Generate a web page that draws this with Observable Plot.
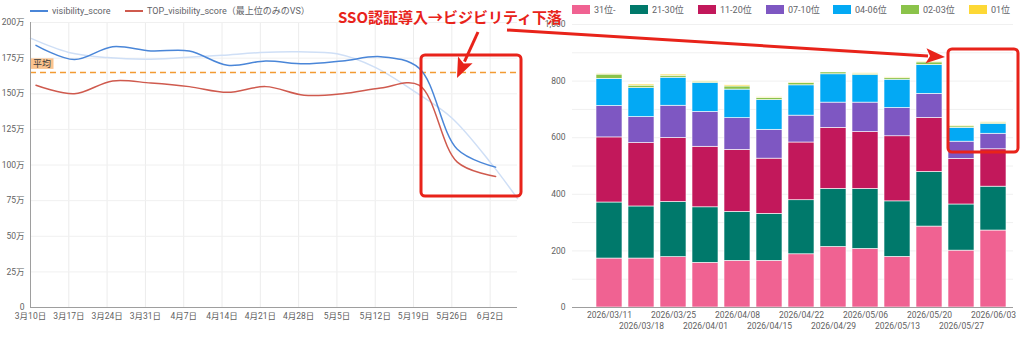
<!DOCTYPE html>
<html>
<head>
<meta charset="utf-8">
<script src="https://cdn.jsdelivr.net/npm/d3@7"></script>
<script src="https://cdn.jsdelivr.net/npm/@observablehq/plot@0.6"></script>
<style>
  html, body { margin: 0; padding: 0; background: #fff; }
  #wrap { position: relative; width: 1024px; height: 337px; overflow: hidden;
          font-family: Roboto, "Noto Sans CJK JP", sans-serif; }
  #left, #right, #anno { position: absolute; top: 0; }
  #left { left: 0; }
  #right { left: 530px; }
  #anno { left: 0; pointer-events: none; }
  .lg { position: absolute; font-size: 9px; color: #5f6368; white-space: nowrap; line-height: 12px; }
</style>
</head>
<body>
<div id="wrap">
  <div id="left"></div>
  <div id="right"></div>
  <svg id="anno" width="1024" height="337"></svg>
</div>
<script>
// ---------- Left chart data (values in 万) ----------
const weeks = ["2026-03-11","2026-03-18","2026-03-25","2026-04-01","2026-04-08","2026-04-15","2026-04-22",
               "2026-04-29","2026-05-06","2026-05-13","2026-05-20","2026-05-27","2026-06-03"];
const visibilityScore = [184, 174, 183, 180, 180, 170, 173, 171, 173, 176, 168, 111, 98.5];
const topVisibilityScore = [156, 150, 159, 157.5, 155, 151, 155, 149, 150, 154, 156, 102, 92];
const trendDates = ["2026-03-10","2026-03-17","2026-03-24","2026-03-31","2026-04-07","2026-04-14","2026-04-21",
                    "2026-04-28","2026-05-05","2026-05-12","2026-05-19","2026-05-26","2026-06-02","2026-06-07"];
const trendValues = [189, 179, 175.4, 174.2, 175.4, 177, 178.9, 179.4, 178, 168.5, 152, 133, 102, 76.5];
const averageValue = 165;
const lineTickDates = ["2026-03-10","2026-03-17","2026-03-24","2026-03-31","2026-04-07","2026-04-14","2026-04-21",
                       "2026-04-28","2026-05-05","2026-05-12","2026-05-19","2026-05-26","2026-06-02"];
const lineYTicks = [0, 25, 50, 75, 100, 125, 150, 175, 200];

// ---------- Right chart data ----------
const barLabels = ["2026/03/11","2026/03/18","2026/03/25","2026/04/01","2026/04/08","2026/04/15","2026/04/22",
                   "2026/04/29","2026/05/06","2026/05/13","2026/05/20","2026/05/27","2026/06/03"];
const ranks = ["31位-","21-30位","11-20位","07-10位","04-06位","02-03位","01位"];
const rankColors = ["#f06292","#00796b","#c2185b","#7e57c2","#03a9f4","#8bc34a","#fdd835"];
const rank31 = [173, 173, 178, 158, 165, 165, 188, 214, 207, 179, 286, 201, 272];
const rank21 = [198, 184, 195, 196, 173, 166, 191, 205, 212, 196, 193, 163, 155];
const rank11 = [230, 224, 226, 214, 219, 195, 204, 216, 201, 230, 191, 161, 132];
const rank07 = [111, 92, 114, 123, 112, 102, 95, 89, 104, 100, 85, 61, 55];
const rank04 = [96, 102, 99, 102, 101, 105, 107, 100, 97, 100, 102, 49, 34];
const rank02 = [15, 9, 7, 5, 11, 8, 8, 7, 5, 6, 9, 5, 5];
const rank01 = [3, 4, 4, 2, 4, 2, 2, 2, 2, 2, 3, 3, 2];
const barYTicks = [0, 200, 400, 600, 800, 1000];
const barGrid = [100, 200, 300, 400, 500, 600, 700, 800, 900, 1000];

const FONT = 'Roboto, "Noto Sans CJK JP", sans-serif';
const GRAY = "#616161";
const RED = "#e8231a";
const AXFS = 8.5;

// ---------- Left line chart ----------
const D = s => new Date(s + "T00:00:00Z");
const visRows = weeks.map((w, i) => ({date: D(w), value: visibilityScore[i]}));
const topRows = weeks.map((w, i) => ({date: D(w), value: topVisibilityScore[i]}));
const trendRows = trendDates.map((w, i) => ({date: D(w), value: trendValues[i]}));
const tickD = lineTickDates.map(D);
const x0 = D("2026-03-10"), x1 = D("2026-06-07");

const left = Plot.plot({
  width: 530, height: 337,
  marginLeft: 30, marginRight: 13, marginTop: 22, marginBottom: 30,
  style: {fontFamily: FONT, fontSize: "8.5px", background: "transparent"},
  x: {type: "utc", domain: [x0, x1], axis: null, label: null},
  y: {domain: [0, 200], axis: null, label: null},
  marks: [
    Plot.ruleX(tickD.slice(1), {stroke: "#ececec"}),
    Plot.ruleY(lineYTicks.slice(1), {stroke: "#f0f0f0"}),
    Plot.line(trendRows, {x: "date", y: "value", stroke: "#cfdff6", strokeWidth: 1.5, curve: "catmull-rom"}),
    Plot.ruleY([averageValue], {stroke: "#f29b34", strokeWidth: 1.5, strokeDasharray: "6,4"}),
    Plot.line(topRows, {x: "date", y: "value", stroke: "#cf5a4e", strokeWidth: 1.5, curve: "catmull-rom"}),
    Plot.line(visRows, {x: "date", y: "value", stroke: "#4a86d8", strokeWidth: 1.5, curve: "catmull-rom"}),
    Plot.ruleX([x0], {stroke: "#9e9e9e"}),
    Plot.ruleY([0], {stroke: "#9e9e9e"}),
    Plot.axisY({ticks: lineYTicks, tickSize: 0, tickPadding: 6, fontSize: AXFS, fill: GRAY, label: null,
                tickFormat: d => d === 0 ? "0" : d + "万"}),
    Plot.axisX({ticks: tickD, tickSize: 0, tickPadding: 5, fontSize: AXFS, fill: GRAY, label: null,
                tickFormat: d => `${d.getUTCMonth() + 1}月${d.getUTCDate()}日`})
  ]
});
document.getElementById("left").appendChild(left);

// ---------- Right stacked bar chart ----------
const series = [rank31, rank21, rank11, rank07, rank04, rank02, rank01];
const barRows = barLabels.flatMap((w, i) => ranks.map((r, k) => ({week: w, rank: r, value: series[k][i]})));
const evenLabels = barLabels.filter((d, i) => i % 2 === 0);
const oddLabels = barLabels.filter((d, i) => i % 2 === 1);

const right = Plot.plot({
  width: 494, height: 337,
  marginLeft: 42, marginRight: 11, marginTop: 24, marginBottom: 30,
  style: {fontFamily: FONT, fontSize: "8.5px", background: "transparent"},
  x: {type: "band", domain: barLabels, range: [55.5, 486.5], padding: 0.2, axis: null, label: null},
  y: {domain: [0, 1000], axis: null, label: null},
  color: {domain: ranks, range: rankColors},
  marks: [
    Plot.ruleY(barGrid, {stroke: "#f0f0f0"}),
    Plot.barY(barRows, {x: "week", y: "value", fill: "rank", order: ranks, stroke: "#ffffff", strokeWidth: 0.6}),
    Plot.ruleY([0], {stroke: "#9e9e9e"}),
    Plot.axisY({ticks: barYTicks, tickSize: 0, tickPadding: 7, fontSize: AXFS, fill: GRAY, label: null,
                tickFormat: d3.format(",")}),
    Plot.axisX({ticks: evenLabels, tickSize: 0, tickPadding: 4.5, fontSize: AXFS, fill: GRAY, label: null}),
    Plot.axisX({ticks: oddLabels, tickSize: 0, tickPadding: 15.5, fontSize: AXFS, fill: GRAY, label: null})
  ]
});
document.getElementById("right").appendChild(right);

// ---------- Legends ----------
const wrap = document.getElementById("wrap");
function addLegend(x, y, html) {
  const d = document.createElement("div");
  d.className = "lg";
  d.style.left = x + "px"; d.style.top = y + "px";
  d.innerHTML = html;
  wrap.appendChild(d);
}
const lineLegend = [
  {label: "visibility_score", color: "#4a86d8", x: 30},
  {label: "TOP_visibility_score（最上位のみのVS）", color: "#cf5a4e", x: 125}
];
lineLegend.forEach(l => addLegend(l.x, 5,
  `<span style="display:inline-block;width:18px;height:2px;background:${l.color};vertical-align:middle;margin-right:4px;position:relative;top:-1px"></span>${l.label}`));
const legendX = [572, 630, 698, 766, 833, 901, 969];
ranks.forEach((r, k) => addLegend(legendX[k], 4,
  `<span style="display:inline-block;width:18px;height:9px;background:${rankColors[k]};vertical-align:middle;margin-right:4px;position:relative;top:-1px"></span>${r}`));

// ---------- Annotations ----------
const svg = d3.select("#anno");
const ly = left.scale("y");
const avgY = ly.apply(averageValue);
svg.append("rect").attr("x", 31).attr("y", avgY - 13.5).attr("width", 22.5).attr("height", 10.5)
   .attr("fill", "#fbc38e");
svg.append("text").attr("x", 42).attr("y", avgY - 5).attr("text-anchor", "middle")
   .attr("font-family", FONT).attr("font-size", 9).attr("fill", "#3c3c3c").text("平均");

svg.append("text").attr("x", 338).attr("y", 23).attr("font-family", '"Noto Sans CJK JP", sans-serif')
   .attr("font-weight", 700).attr("font-size", 15).attr("fill", RED).text("SSO認証導入→ビジビリティ下落");

function box(x, y, w, h) {
  svg.append("rect").attr("x", x).attr("y", y).attr("width", w).attr("height", h).attr("rx", 4)
     .attr("fill", "none").attr("stroke", RED).attr("stroke-width", 3);
}
box(421, 55, 100, 141);
box(948, 49, 70, 103);

function arrow(xa, ya, xb, yb, headLen, headW) {
  const dx = xb - xa, dy = yb - ya, L = Math.hypot(dx, dy);
  const ux = dx / L, uy = dy / L, px = -uy, py = ux;
  const bx = xb - ux * headLen, by = yb - uy * headLen;
  svg.append("line").attr("x1", xa).attr("y1", ya).attr("x2", bx + ux * 2).attr("y2", by + uy * 2)
     .attr("stroke", RED).attr("stroke-width", 3);
  svg.append("polygon")
     .attr("points", `${xb},${yb} ${bx + px * headW},${by + py * headW} ${bx + ux * 4},${by + uy * 4} ${bx - px * headW},${by - py * headW}`)
     .attr("fill", RED);
}
arrow(478, 32, 457, 78, 20, 8);
arrow(507, 30, 945, 57, 19, 7.5);
</script>
</body>
</html>
